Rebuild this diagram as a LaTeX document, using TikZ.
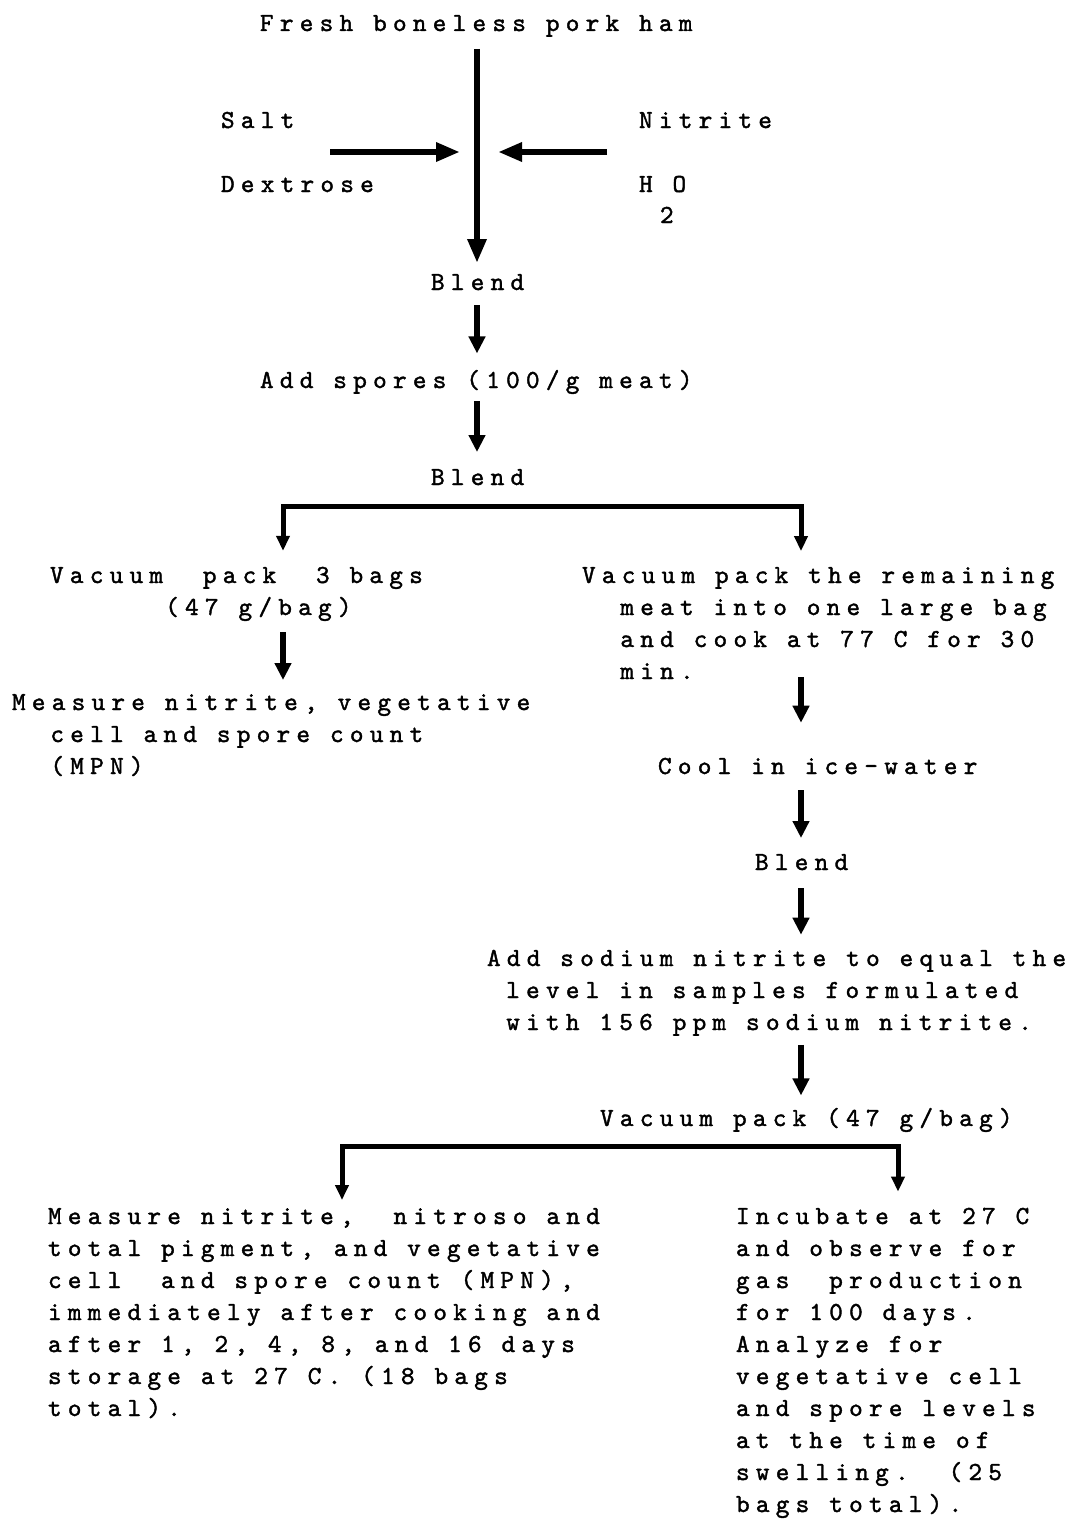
\documentclass[tikz,border=0pt]{standalone}
\usepackage{fontspec}
\usetikzlibrary{arrows.meta}
\newfontfamily\tw[LetterSpace=24,FakeBold=1.5]{lmmono10-regular.otf}
\begin{document}
\begin{tikzpicture}[x=1pt,y=-1pt,
  every node/.style={inner sep=0pt, outer sep=0pt, align=left, anchor=base west,
    font={\tw\fontsize{26}{32}\selectfont\frenchspacing}},
  bigflow/.style={line width=6.5pt, -{Triangle[length=24pt,width=18pt]}},
  flow/.style={line width=6pt, -{Triangle[length=17pt,width=16pt]}},
  branch/.style={line width=5pt, {Triangle[length=15pt,width=13pt]}-{Triangle[length=15pt,width=13pt]}}]
\useasboundingbox[fill=white] (0,0) rectangle (1084,1520);

% columns
\coordinate (colM) at (477,0);
\coordinate (colL) at (283,0);
\coordinate (colR) at (801,0);
\coordinate (colB1) at (342,0);
\coordinate (colB2) at (898,0);

% texts (anchor = baseline of the last line)
\node (ham) at (260,31) {Fresh boneless pork ham};
\node (salt) at (221,128) {Salt};
\node (dex) at (221,192) {Dextrose};
\node (nit) at (639,128) {Nitrite};
\node (hho) at (639,192) {H O};
\node (two) at (660,223) {2};
\node (bl1) at (431,290) {Blend};
\node (spores) at (260,388) {Add spores (100/g meat)};
\node (bl2) at (431,485) {Blend};
\node (vp3) at (50,615) {Vacuum\ \ pack\ \ 3 bags\\\hspace*{115.2pt}(47 g/bag)};
\node (vpr) at (582,679) {Vacuum pack the remaining\\\hspace*{38.4pt}meat into one large bag\\\hspace*{38.4pt}and cook at 77 C for 30\\\hspace*{38.4pt}min.};
\node (meas1) at (12,774) {Measure nitrite, vegetative\\\hspace*{38.4pt}cell and spore count\\\hspace*{38.4pt}(MPN)};
\node (cool) at (658,774) {Cool in ice-water};
\node (bl3) at (755,870) {Blend};
\node (addna) at (487,1030) {Add sodium nitrite to equal the\\\hspace*{19.2pt}level in samples formulated\\\hspace*{19.2pt}with 156 ppm sodium nitrite.};
\node (vp47) at (600,1126) {Vacuum pack (47 g/bag)};
\node (measL) at (48,1416) {Measure nitrite,\ \ nitroso and\\total pigment, and vegetative\\cell\ \ and spore count (MPN),\\immediately after cooking and\\after 1, 2, 4, 8, and 16 days\\storage at 27 C. (18 bags\\total).};
\node (inc) at (736,1512) {Incubate at 27 C\\and observe for\\gas\ \ production\\for 100 days.\\Analyze for\\vegetative cell\\and spore levels\\at the time of\\swelling.\ \ (25\\bags total).};

% side inputs
\coordinate (inL) at (330,152);
\coordinate (joinL) at (460,152);
\coordinate (inR) at (607,152);
\coordinate (joinR) at (498,152);

% connectors
\draw[bigflow, shorten <=12.2pt, shorten >=11.1pt] (ham.south -| colM) -- (bl1.north -| colM);
\draw[bigflow] (inL) -- (joinL);
\draw[bigflow] (inR) -- (joinR);
\draw[flow, shorten <=15pt, shorten >=16.5pt] (bl1.south -| colM) -- (spores.north -| colM);
\draw[flow, shorten <=7.5pt, shorten >=17.1pt] (spores.south -| colM) -- (bl2.north -| colM);
\draw[branch, shorten <=16pt, shorten >=16pt] (vp3.north -| colL) -- ++(0,-60.1) -| (vpr.north -| colR);
\draw[flow, shorten <=11.5pt, shorten >=14.1pt] (vp3.south -| colL) -- (meas1.north -| colL);
\draw[flow, shorten <=-2pt, shorten >=35.1pt] (vpr.south -| colR) -- (cool.north -| colR);
\draw[flow, shorten <=16pt, shorten >=16.1pt] (cool.south -| colR) -- (bl3.north -| colR);
\draw[flow, shorten <=18pt, shorten >=15.1pt] (bl3.south -| colR) -- (addna.north -| colR);
\draw[flow, shorten <=9.2pt, shorten >=12.5pt] (addna.south -| colR) -- (vp47.north -| colR);
\draw[branch, shorten <=8.1pt, shorten >=16.1pt] (measL.north -| colB1) -- ++(0,-62.1) -| (inc.north -| colB2);
\end{tikzpicture}
\end{document}
